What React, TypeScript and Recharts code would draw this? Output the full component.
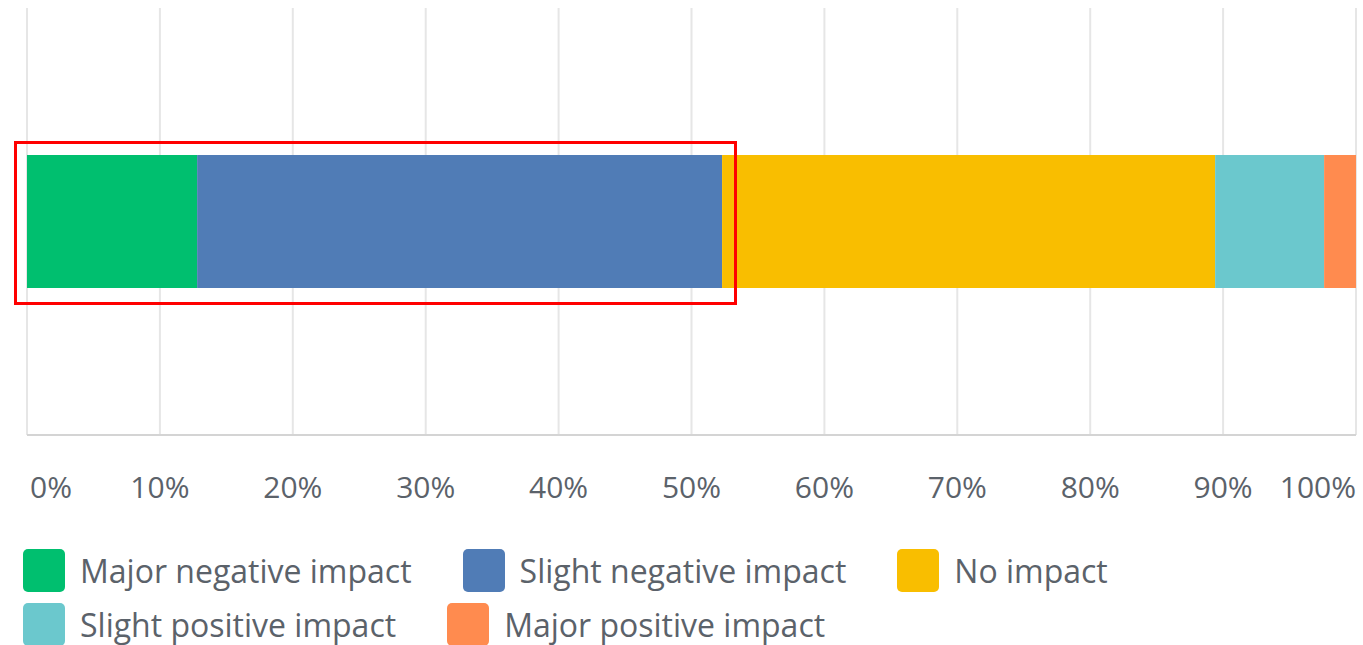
import React from "react";
import { BarChart, Bar, XAxis, YAxis, CartesianGrid } from "recharts";

const categories = ["Response"];
const seriesNames = [
  "Major negative impact",
  "Slight negative impact",
  "No impact",
  "Slight positive impact",
  "Major positive impact",
];
const seriesKeys = ["majorNeg", "slightNeg", "noImpact", "slightPos", "majorPos"];
const seriesColors = ["#00BF6F", "#507CB6", "#F9BE00", "#6BC8CD", "#FF8B4F"];
const majorNeg = [12.8];
const slightNeg = [39.5];
const noImpact = [37.1];
const slightPos = [8.2];
const majorPos = [2.4];
const tickValues = [0, 10, 20, 30, 40, 50, 60, 70, 80, 90, 100];
const tickLabels = ["0%", "10%", "20%", "30%", "40%", "50%", "60%", "70%", "80%", "90%", "100%"];

const seriesValues = [majorNeg, slightNeg, noImpact, slightPos, majorPos];
const data = categories.map((c, i) => {
  const row: Record<string, string | number> = { name: c };
  seriesKeys.forEach((k, j) => {
    row[k] = seriesValues[j][i];
  });
  return row;
});

const FONT = '"Open Sans", sans-serif';
const TEXT = "#5b626a";

const XTick = (props: any) => {
  const { x, y, payload } = props;
  const idx = tickValues.indexOf(payload.value);
  const last = idx === tickValues.length - 1;
  const first = idx === 0;
  const anchor = first ? "start" : last ? "end" : "middle";
  const dx = first ? 3 : 0;
  return (
    <text
      x={x + dx}
      y={y + 61}
      textAnchor={anchor}
      fill={TEXT}
      fontFamily={FONT}
      fontSize={30}
    >
      {tickLabels[idx]}
    </text>
  );
};

export default function App() {
  return (
    <div style={{ position: "absolute", left: 0, top: 0, width: 1363, height: 645, background: "#fff", overflow: "hidden" }}>
      <BarChart
        width={1363}
        height={530}
        data={data}
        layout="vertical"
        margin={{ top: 8, right: 7, bottom: 0, left: 27 }}
        barSize={133}
      >
        <CartesianGrid horizontal={false} vertical={true} stroke="#e6e6e6" strokeWidth={2} />
        <XAxis
          type="number"
          domain={[0, 100]}
          ticks={tickValues}
          interval={0}
          height={95}
          tickLine={false}
          tickSize={0}
          axisLine={{ stroke: "#d4d4d4", strokeWidth: 2 }}
          tick={<XTick />}
        />
        <YAxis
          type="category"
          dataKey="name"
          width={0}
          tick={false}
          tickLine={false}
          axisLine={{ stroke: "#d4d4d4", strokeWidth: 2 }}
        />
        {seriesKeys.map((k, i) => (
          <Bar
            key={k}
            dataKey={k}
            name={seriesNames[i]}
            stackId="a"
            fill={seriesColors[i]}
            isAnimationActive={false}
          />
        ))}
      </BarChart>
      <div
        style={{
          position: "absolute",
          left: 14,
          top: 141,
          width: 723,
          height: 164,
          border: "3px solid #ff0000",
          boxSizing: "border-box",
          pointerEvents: "none",
        }}
      />
      <div
        style={{
          position: "absolute",
          left: 23,
          top: 549,
          width: 1330,
          display: "flex",
          flexWrap: "wrap",
          columnGap: 51,
          rowGap: 11,
          fontFamily: FONT,
          fontSize: 32,
          color: TEXT,
        }}
      >
        {seriesNames.map((n, i) => (
          <div key={n} style={{ display: "flex", alignItems: "center", height: 43 }}>
            <div
              style={{
                width: 42,
                height: 43,
                borderRadius: 5,
                background: seriesColors[i],
                marginRight: 15,
              }}
            />
            <span style={{ whiteSpace: "nowrap", lineHeight: "43px" }}>{n}</span>
          </div>
        ))}
      </div>
    </div>
  );
}
